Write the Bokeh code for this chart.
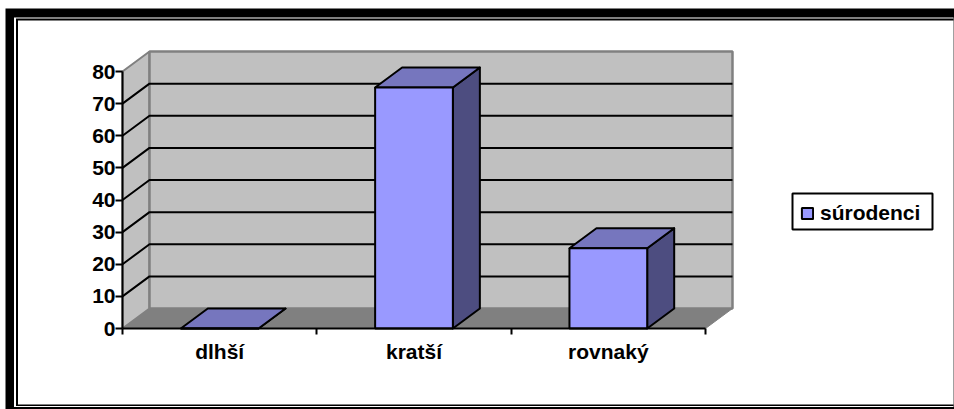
from bokeh.plotting import figure
from bokeh.models import (Range1d, LinearAxis, FixedTicker, Legend, LegendItem)
from bokeh.embed import file_html
from bokeh.resources import INLINE

categories = ["dlhší", "kratší", "rovnaký"]
values = [0, 75, 25]
series_name = "súrodenci"
y_ticks = [0, 10, 20, 30, 40, 50, 60, 70, 80]

FONT = "Liberation Sans"
FS = "21px"
W, H = 954, 409
PX_X = 194.33          # pixels per category
PX_Y = 3.2125          # pixels per value unit
X0, Y0 = 122, 328      # origin in figure pixels
DX = 27 / PX_X         # depth offset of the 3-D box
DY = 20 / PX_Y
BAR_W = 0.4
n = len(categories)
VMAX = y_ticks[-1]

p = figure(width=W, height=H, output_backend="svg", toolbar_location=None,
           x_axis_type=None, y_axis_type=None, min_border=0,
           x_range=Range1d(-X0 / PX_X, (W - X0) / PX_X),
           y_range=Range1d((Y0 - H) / PX_Y, Y0 / PX_Y),
           outline_line_color=None, background_fill_color="white",
           border_fill_color="white")

def box(left, top, right, bottom, color, **kw):
    # decoration given in picture pixels, converted through the plot's scales
    p.quad(left=[(left - X0) / PX_X], right=[(right - X0) / PX_X],
           top=[(Y0 - top) / PX_Y], bottom=[(Y0 - bottom) / PX_Y],
           fill_color=color, line_color=kw.get("line_color", None),
           line_width=kw.get("line_width", 1), level="underlay")

box(5, 8, W, H, "black")
box(13.5, 17, W - 1, H - 2.5, "white")
box(15.5, 18, W - 1, H - 3.5, "black")
box(17.5, 20, W - 1, H - 5, "white")
box(792, 193, 932, 229, "white", line_color="black", line_width=2)

WALL = "#C0C0C0"
EDGE = "#808080"
# floor, side wall, back wall
p.patch([0, n, n + DX, DX], [0, 0, DY, DY], fill_color=EDGE, line_color=EDGE, line_width=1)
p.patch([0, 0, DX, DX], [0, VMAX, VMAX + DY, DY], fill_color=WALL, line_color=EDGE, line_width=2)
p.patch([DX, n + DX, n + DX, DX], [DY, DY, VMAX + DY, VMAX + DY], fill_color=WALL, line_color=EDGE, line_width=2.5)

# gridlines
for t in y_ticks[1:-1]:
    p.line([0, DX, n + DX], [t, t + DY, t + DY], line_color="black", line_width=2)

# bars
legend_r = None
for i, v in enumerate(values):
    l, r = i + 0.5 - BAR_W / 2, i + 0.5 + BAR_W / 2
    p.patch([r, r + DX, r + DX, r], [0, DY, v + DY, v], fill_color="#4D4D80", line_color="black",
            line_width=2, line_join="round")
    p.patch([l, r, r + DX, l + DX], [v, v, v + DY, v + DY], fill_color="#7676BE", line_color="black",
            line_width=2, line_join="round")
    q = p.quad(left=[l], right=[r], bottom=[0], top=[v], fill_color="#9999FF", line_color="black", line_width=2)
    legend_r = legend_r or q

# axes
yaxis = LinearAxis(fixed_location=0, bounds=(0, VMAX), ticker=FixedTicker(ticks=y_ticks),
                   axis_line_color="black", axis_line_width=2,
                   major_tick_line_color="black", major_tick_line_width=2, major_tick_in=0, major_tick_out=7,
                   minor_tick_line_color=None, major_label_standoff=0,
                   major_label_text_font=FONT, major_label_text_font_style="bold",
                   major_label_text_font_size=FS, major_label_text_color="black")
p.add_layout(yaxis, "left")

centers = [i + 0.5 for i in range(n)]
xaxis = LinearAxis(fixed_location=0, bounds=(0, n),
                   ticker=FixedTicker(ticks=centers, minor_ticks=list(range(n + 1))),
                   major_label_overrides={c: t for c, t in zip(centers, categories)},
                   axis_line_color="black", axis_line_width=2,
                   major_tick_line_color=None, major_tick_in=0, major_tick_out=6,
                   minor_tick_line_color="black", minor_tick_line_width=2, minor_tick_in=0, minor_tick_out=6,
                   major_label_standoff=5,
                   major_label_text_font=FONT, major_label_text_font_style="bold",
                   major_label_text_font_size=FS, major_label_text_color="black")
p.add_layout(xaxis, "below")

legend = Legend(items=[LegendItem(label=series_name, renderers=[legend_r])],
                location=(800, 184), orientation="vertical",
                border_line_color=None, background_fill_alpha=0,
                padding=0, margin=0, glyph_width=14, glyph_height=14, label_standoff=6, spacing=0,
                label_text_font=FONT, label_text_font_style="bold", label_text_font_size=FS,
                label_text_color="black")
p.add_layout(legend, "center")

open("out.html", "w").write(file_html(p, INLINE))
